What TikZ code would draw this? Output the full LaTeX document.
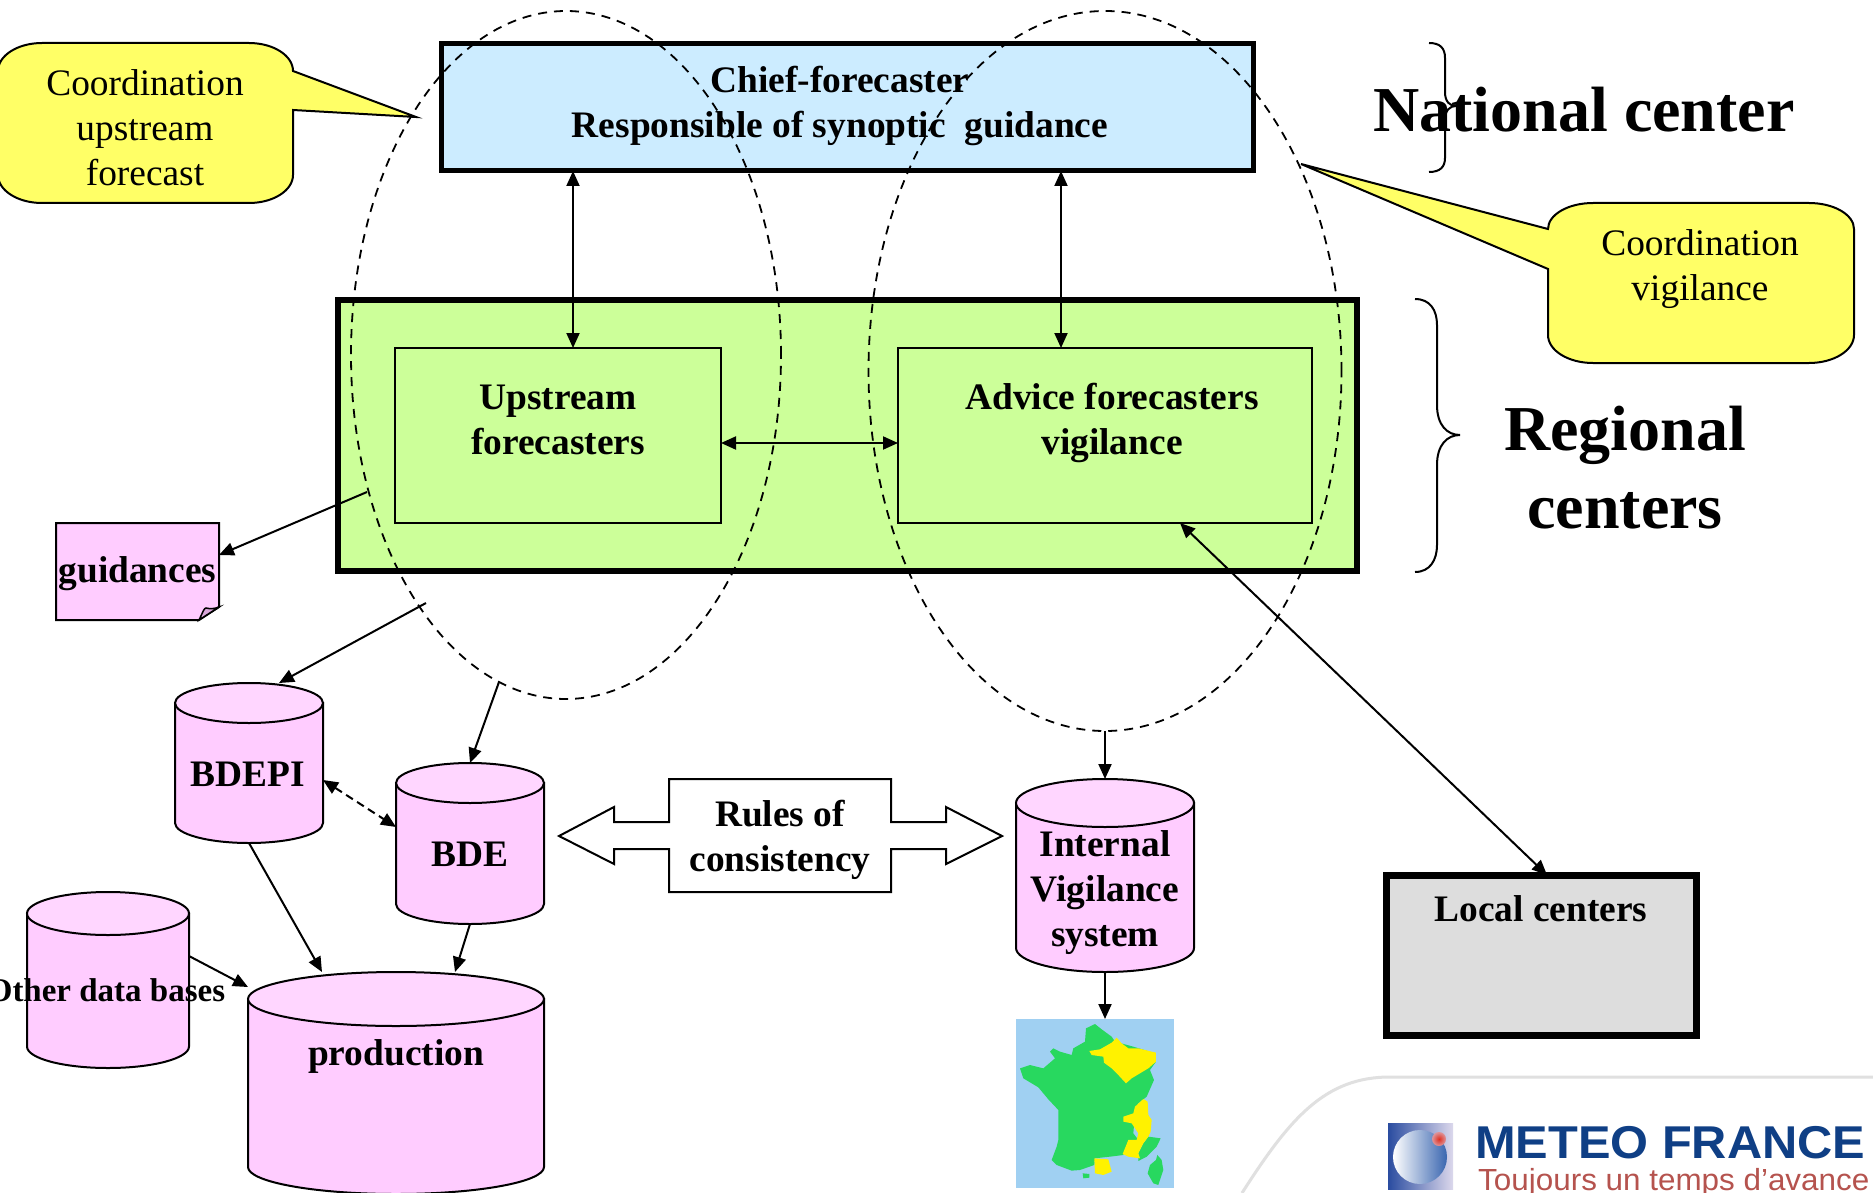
\documentclass[tikz,border=0pt]{standalone}
\usepackage{fontspec}
\setmainfont{Liberation Serif}
\newfontfamily\logofont{Liberation Sans}
\usetikzlibrary{arrows.meta,calc,shapes.geometric}
\definecolor{chiefblue}{HTML}{CCECFF}
\definecolor{boxgreen}{HTML}{CCFF99}
\definecolor{cylpink}{HTML}{FFCCFF}
\definecolor{cyltop}{HTML}{FFD6FF}
\definecolor{calloutyellow}{HTML}{FFFF66}
\definecolor{localgrey}{HTML}{DDDDDD}
\definecolor{mapblue}{HTML}{A0D0F2}
\definecolor{mapgreen}{HTML}{28D85F}
\definecolor{foldpink}{HTML}{D9A6D9}
\definecolor{logoblue}{HTML}{0F3F85}
\definecolor{logored}{HTML}{B5534E}
\definecolor{globedark}{HTML}{2A4CA0}
\definecolor{globepale}{HTML}{DCD8EC}
\definecolor{ballmid}{HTML}{8E8CC8}
\definecolor{ballright}{HTML}{3A66B0}
\definecolor{dotred}{HTML}{E03020}
\tikzset{
  base/.style={rectangle,inner sep=0pt,outer sep=0pt},
  chiefbox/.style={base,draw=black,fill=chiefblue,line width=5pt},
  regionbox/.style={base,draw=black,fill=boxgreen,line width=6pt},
  innerbox/.style={base,draw=black,fill=boxgreen,line width=2pt},
  localbox/.style={base,draw=black,fill=localgrey,line width=7pt},
  ghost/.style={base},
  dashell/.style={ellipse,draw=black,inner sep=0pt,outer sep=0pt,line width=1.8pt,dash pattern=on 9pt off 7pt},
  cylline/.style={draw=black,line width=2pt},
  callout/.style={draw=black,fill=calloutyellow,line width=2pt,line join=miter},
  link/.style={line width=2pt,-{Triangle[length=15pt,width=13pt]}},
  linkboth/.style={line width=2pt,{Triangle[length=15pt,width=13pt]}-{Triangle[length=15pt,width=13pt]}},
  boldtext/.style={align=center,inner sep=0pt,font=\fontsize{37.4}{45}\selectfont\bfseries},
  plaintext/.style={align=center,inner sep=0pt,font=\fontsize{37.4}{45}\selectfont},
}
\newcommand{\cylbody}[3]{%
  \draw[cylline,fill=cylpink] ($(#1.north west)+(0,#3)$) -- ($(#1.south west)+(0,-#3)$)
    arc[start angle=180,end angle=360,x radius=#2pt,y radius=#3pt] -- ($(#1.north east)+(0,#3)$) -- cycle;
  \draw[cylline,fill=cyltop] ($(#1.north)+(0,#3)$) ellipse[x radius=#2pt,y radius=#3pt];
}
\begin{document}
\begin{tikzpicture}[x=1pt,y=-1pt]
\useasboundingbox (0,0) rectangle (1873,1193);
\fill[white] (0,0) rectangle (1873,1193);

% logo backdrop
\draw[line width=3pt,color=black!12] (1242,1193) .. controls (1290,1118) and (1325,1077) .. (1390,1077) -- (1873,1077);

% callouts
\draw[callout] (293,71) -- (416,117) -- (293,110) -- (293,175)
  arc[start angle=0,end angle=-90,x radius=44pt,y radius=28pt] -- (42,203)
  arc[start angle=270,end angle=180,x radius=44pt,y radius=28pt] -- (-2,71)
  arc[start angle=180,end angle=90,x radius=44pt,y radius=28pt] -- (249,43)
  arc[start angle=90,end angle=0,x radius=44pt,y radius=28pt] -- cycle;
\draw[callout] (1548,229) -- (1301,164) -- (1548,269) -- (1548,335)
  arc[start angle=180,end angle=270,x radius=45pt,y radius=28pt] -- (1809,363)
  arc[start angle=270,end angle=360,x radius=45pt,y radius=28pt] -- (1854,229)
  arc[start angle=0,end angle=90,x radius=45pt,y radius=26pt] -- (1593,203)
  arc[start angle=90,end angle=180,x radius=45pt,y radius=26pt] -- cycle;

% boxes
\node[chiefbox,minimum width=812,minimum height=127] (chief) at (847,107.5) {};
\node[regionbox,minimum width=1019,minimum height=271] (region) at (847.5,435.5) {};
\node[innerbox,minimum width=326,minimum height=175] (up) at (558,435.5) {};
\node[innerbox,minimum width=414,minimum height=175] (adv) at (1105,435.5) {};
\node[localbox,minimum width=310,minimum height=160] (local) at (1541,955) {};

% guidances note
\node[ghost,minimum width=163,minimum height=97] (guid) at (137.5,571.5) {};
\draw[cylline,fill=cylpink] (56,523) -- (219,523) -- (219,607) -- (199,620) -- (56,620) -- cycle;
\draw[line width=1.5pt,fill=foldpink] (199,620) .. controls (203,612) and (204,608) .. (206,608) .. controls (210,609) and (214,609) .. (219,607) -- cycle;

% cylinders
\node[ghost,minimum width=148,minimum height=160] (bdepi) at (249,763) {};
\node[ghost,minimum width=148,minimum height=161] (bde) at (470,843.5) {};
\node[ghost,minimum width=162,minimum height=176] (other) at (108,980) {};
\node[ghost,minimum width=296,minimum height=222] (prod) at (396,1083) {};
\node[ghost,minimum width=178,minimum height=193] (iv) at (1105,875.5) {};
\cylbody{bdepi}{74}{20}
\cylbody{bde}{74}{20}
\cylbody{other}{81}{21.5}
\cylbody{prod}{148}{27}
\cylbody{iv}{89}{24}

% rules double block arrow
\node[ghost,minimum width=222,minimum height=113] (rulesblock) at (780,835.5) {};
\draw[line width=2pt,fill=white,line join=miter] (559,836) -- (614,807) -- (614,822) -- (669,822) -- (669,779) -- (891,779) -- (891,822) -- (946,822) -- (946,807) -- (1002,836) -- (946,864) -- (946,849) -- (891,849) -- (891,892) -- (669,892) -- (669,849) -- (614,849) -- (614,864) -- cycle;

% map
\node[base,fill=mapblue,minimum width=158,minimum height=169] (map) at (1095,1103.5) {};
\begin{scope}[shift={(1000,1000)},x=0.3333pt,y=-0.3333pt]
\fill[mapgreen] (258,85)--(285,72)--(305,88)--(335,110)--(345,125)--(400,140)--(465,160)--(468,185)--(450,210)--(462,240)--(440,290)--(415,310)--(405,340)--(400,400)--(415,420)--(385,430)--(370,465)--(330,470)--(285,475)--(283,495)--(240,510)--(215,512)--(170,495)--(155,480)--(170,440)--(175,420)--(175,330)--(145,298)--(115,262)--(70,235)--(60,205)--(90,195)--(130,205)--(165,175)--(150,155)--(160,145)--(180,155)--(215,165)--(220,145)--(255,125)--cycle;
\fill[mapgreen] (445,410)--(482,415)--(470,440)--(440,470)--(415,483)--(415,460)--(430,430)--cycle;
\fill[mapgreen] (472,465)--(485,480)--(490,510)--(475,555)--(460,550)--(443,520)--(450,495)--(468,480)--cycle;
\fill[mapgreen] (248,520)--(268,522)--(268,533)--(250,535)--cycle;
\fill[yellow] (268,153)--(300,148)--(335,128)--(350,113)--(365,130)--(385,145)--(415,145)--(468,158)--(468,185)--(445,205)--(420,220)--(395,235)--(378,250)--(355,225)--(335,205)--(312,188)--(310,170)--(275,165)--cycle;
\fill[yellow] (430,297)--(443,305)--(445,345)--(455,360)--(452,395)--(445,410)--(430,430)--(415,460)--(420,475)--(385,470)--(368,462)--(385,420)--(410,420)--(415,400)--(395,370)--(370,365)--(370,350)--(400,340)--(405,320)--cycle;
\fill[yellow] (283,475)--(325,478)--(335,515)--(310,525)--(285,520)--cycle;
\end{scope}

% free ends and columns
\coordinate (colA) at (573,0);
\coordinate (colB) at (1061,0);
\coordinate (rowA) at (0,443);
\coordinate (gstart) at (367,492);
\coordinate (bstart) at (426,603);
\coordinate (dstart) at (499,682);

% connectors
\draw[linkboth] (chief.south -| colA) -- (up.north -| colA);
\draw[linkboth] (chief.south -| colB) -- (adv.north -| colB);
\draw[linkboth] (up.east |- rowA) -- (adv.west |- rowA);
\draw[link] (gstart) -- ($(guid.east)+(0,-16.5)$);
\draw[link] (bstart) -- ($(bdepi.north)+(30,0)$);
\draw[link] (dstart) -- (bde.north);
\draw[linkboth,dash pattern=on 8pt off 5pt] ($(bdepi.east)+(0,17)$) -- ($(bde.west)+(0,-16.5)$);
\draw[link] (bdepi.south) -- ($(prod.north)+(-74,0)$);
\draw[link] (bde.south) -- ($(prod.north)+(59,0)$);
\draw[link] ($(other.east)+(0,-24)$) -- ($(prod.north west)+(0,15)$);
\draw[linkboth] ($(adv.south)+(75,0)$) -- ($(local.north)+(6,0)$);

% dashed ellipses
\node[dashell,minimum width=430,minimum height=688] (ellL) at (566,355) {};
\node[dashell,minimum width=473,minimum height=720] (ellR) at (1105,371) {};
\draw[link] (ellR.south) -- (iv.north);
\draw[link] (iv.south) -- (map.north -| iv.south);

% braces
\draw[line width=2pt] (1429,43) .. controls (1440,43) and (1445,48) .. (1445,58) -- (1445,92) .. controls (1445,102) and (1450,106) .. (1456,106) .. controls (1450,106) and (1445,110) .. (1445,120) -- (1445,158) .. controls (1445,167) and (1440,172) .. (1429,172);
\draw[line width=2pt] (1415,299) .. controls (1430,299) and (1437,310) .. (1437,325) -- (1437,405) .. controls (1437,425) and (1447,435) .. (1460,435) .. controls (1447,435) and (1437,445) .. (1437,465) -- (1437,545) .. controls (1437,560) and (1430,572) .. (1415,572);

% texts
\node[boldtext] (tchief) at (840,106) {Chief-forecaster\\Responsible of synoptic\ \ guidance};
\node[boldtext] (tup) at (558,420) {Upstream\\forecasters};
\node[boldtext] (tadv) at (1112,423) {Advice forecasters\\vigilance};
\node[plaintext] (tc1) at (145,128) {Coordination\\upstream\\forecast};
\node[plaintext] (tc2) at (1700,269) {Coordination\\vigilance};
\node[boldtext] (tguid) at (137.5,574) {guidances};
\node[boldtext] (tbdepi) at (248,774) {BDEPI};
\node[boldtext] (tbde) at (470,854) {BDE};
\node[boldtext] (trules) at (780,840) {Rules of\\consistency};
\node[boldtext] (tiv) at (1105,893) {Internal\\Vigilance\\system};
\node[boldtext] (tlocal) at (1541,909) {Local centers};
\node[align=center,inner sep=0pt,font=\fontsize{33}{40}\selectfont\bfseries] (tother) at (106,990) {Other data bases};
\node[boldtext] (tprod) at (396,1056) {production};
\node[align=center,inner sep=0pt,font=\fontsize{64}{78}\selectfont\bfseries] (tnat) at (1584,110) {National center};
\node[align=center,inner sep=0pt,font=\fontsize{64}{78}\selectfont\bfseries] (treg) at (1625,468) {Regional\\centers};

% logo
\shade[left color=globedark,right color=globepale] (1388,1123) rectangle (1453,1189);
\shade[left color=white,middle color=ballmid,right color=ballright] (1420,1157) circle[radius=27pt];
\shade[inner color=dotred,outer color=dotred!40!globepale] (1439,1139) circle[radius=7pt];
\node[anchor=base west,inner sep=0pt,xscale=1.06,text=logoblue,font=\logofont\fontsize{46}{46}\selectfont\bfseries] (tmf) at (1475,1158) {METEO FRANCE};
\node[anchor=base west,inner sep=0pt,xscale=1.03,text=logored,font=\logofont\fontsize{30.5}{31}\selectfont] (tta) at (1478,1190) {Toujours un temps d’avance};
\end{tikzpicture}
\end{document}
